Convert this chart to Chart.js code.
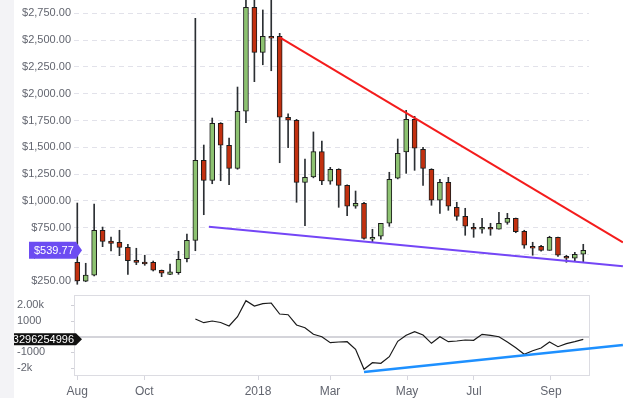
<!DOCTYPE html>
<html><head><meta charset="utf-8">
<script src="https://cdn.jsdelivr.net/npm/chart.js@4.4.0/dist/chart.umd.min.js"></script>
<style>
html,body{margin:0;padding:0;background:#fff;}
#wrap{position:relative;width:623px;height:398px;overflow:hidden;background:#fff;}
#side{position:absolute;left:0;top:0;width:14px;height:398px;background:#f3f3f6;z-index:5;}
#c1{position:absolute;left:0;top:0;}
#c2{position:absolute;left:0;top:292px;}
</style></head><body>
<div id="wrap"><div id="side"></div><canvas id="c1" width="623" height="292"></canvas><canvas id="c2" width="623" height="106"></canvas></div>
<script>
// ---- data (weekly candles) ----
const opens  = [427,250,306,726,626,614,567,446,430,427,353,315,330,461,632,1379,1192,1724,1519,1304,1836,2806,2386,2535,2535,1780,1752,1173,1223,1459,1183,1295,1145,950,978,642,670,791,1211,1456,1761,1481,1295,1006,1173,940,856,754,735,754,735,800,838,716,576,576,539,660,483,465,502];
const highs  = [980,418,971,756,663,726,595,558,493,439,355,411,530,691,2703,1521,1773,1730,1587,2062,2950,2950,2781,2900,2563,1811,1761,1391,1643,1559,1313,1300,1150,1092,987,735,791,1267,1577,1845,1789,1500,1300,1201,1220,987,931,791,838,791,894,884,840,726,614,585,670,662,493,520,595];
const lows   = [222,246,299,573,533,489,315,405,399,346,293,312,315,430,535,871,1160,1188,1151,1295,1729,2112,2270,2214,1356,1496,987,769,1215,1151,1155,940,862,931,642,614,642,763,1205,1257,1285,1145,959,884,912,819,679,660,698,679,735,782,703,558,493,530,539,483,427,437,427];
const closes = [253,309,726,623,604,567,442,427,411,353,325,337,455,632,1379,1192,1724,1519,1304,1836,2806,2386,2535,2517,1780,1752,1173,1220,1459,1186,1295,1145,950,978,651,660,791,1201,1444,1761,1491,1304,1006,1173,950,856,763,735,754,735,791,838,713,586,558,539,660,493,465,502,539.77];
const oscillator = [null,null,null,null,null,null,null,null,null,null,null,null,null,null,1131,895,1003,907,684,1278,2300,1962,2109,2153,1450,1406,748,575,153,0,-383,-339,-319,-805,-2083,-1661,-1700,-1278,-294,89,319,109,-422,0,-319,-275,-211,-230,153,89,0,-339,-703,-1125,-895,-722,-339,-639,-447,-319,-166];
const resistanceX = [24, 64.7];
const resistanceY = [2526, 612];
const supportX = [15.6, 64.7];
const supportY = [759, 391];
const oscTrendX = [34, 64.7];
const oscTrendY = [-2256, -530];
const monthLabels = ['Aug','Oct','2018','Mar','May','Jul','Sep'];
const monthPositions = [0, 7.95, 21.43, 29.97, 39.1, 47.04, 56.17];
const priceTickValues = [250,500,750,1000,1250,1500,1750,2000,2250,2500,2750];
const oscTickValues = [-2000,-1000,0,1000,2000];
const oscTickLabels = ['-2k','-1000','','1000','2.00k'];
const oscTagText = '3296254996';

// ---- styling ----
const GREEN = '#8dc271', RED = '#c2300f', EDGE = '#1c1c1c', WICK = '#2b2f33';
const TICK = '#62656f';
const FONT = '"Liberation Sans", Arial, sans-serif';
const X_MIN = -0.39, X_MAX = 60.68;
Chart.defaults.font.family = FONT;

const idx = opens.map((_, i) => i);
const bodies = idx.map(i => ({x: i, y: [opens[i], closes[i]]}));
const wicks = idx.map(i => ({x: i, y: [lows[i], highs[i]]}));
const bodyColors = idx.map(i => closes[i] >= opens[i] ? GREEN : RED);
const pts = (xs, ys) => xs.map((x, i) => ({x, y: ys[i]}));
const lastPrice = closes[closes.length - 1];
const lastOsc = oscillator[oscillator.length - 1];

const fmtPrice = v => '$' + Number(v).toLocaleString('en-US', {minimumFractionDigits: 2, maximumFractionDigits: 2});

const priceTag = {
  id: 'priceTag',
  afterDraw(chart) {
    const ctx = chart.ctx, y = chart.scales.y.getPixelForValue(lastPrice);
    ctx.save();
    ctx.fillStyle = '#6c4cf2';
    ctx.beginPath();
    ctx.moveTo(29, y - 8.5); ctx.lineTo(76, y - 8.5); ctx.lineTo(82, y); ctx.lineTo(76, y + 8.5); ctx.lineTo(29, y + 8.5);
    ctx.closePath(); ctx.fill();
    ctx.fillStyle = '#fff'; ctx.font = '11px ' + FONT; ctx.textAlign = 'left'; ctx.textBaseline = 'middle';
    ctx.fillText(fmtPrice(lastPrice), 34, y + 0.5);
    ctx.restore();
  }
};

new Chart(document.getElementById('c1'), {
  type: 'bar',
  data: { datasets: [
    {type: 'line', data: pts(resistanceX, resistanceY), borderColor: '#f41c1c', borderWidth: 2, pointRadius: 0, clip: false, order: 0},
    {type: 'line', data: pts(supportX, supportY), borderColor: '#7446f6', borderWidth: 2, pointRadius: 0, clip: false, order: 1},
    {type: 'bar', data: bodies, backgroundColor: bodyColors, borderColor: EDGE, borderWidth: 1, borderSkipped: false, barThickness: 5, grouped: false, order: 2},
    {type: 'bar', data: wicks, backgroundColor: WICK, barThickness: 1, grouped: false, order: 3}
  ]},
  options: {
    responsive: false, animation: false, devicePixelRatio: 1,
    layout: {padding: {left: 0, right: 34, top: 0, bottom: 0}},
    plugins: {legend: {display: false}, tooltip: {enabled: false}},
    scales: {
      x: {type: 'linear', min: X_MIN, max: X_MAX, display: false, offset: false},
      y: {type: 'linear', min: 150, max: 2874,
        afterBuildTicks(s) { s.ticks = priceTickValues.map(v => ({value: v})); },
        afterFit(s) { s.width = 74; s.paddingTop = 0; s.paddingBottom = 0; },
        border: {display: false, dash: [5, 4]},
        grid: {color: '#e2e2ea', drawTicks: false},
        ticks: {padding: 3, color: TICK, font: {size: 11}, callback: v => fmtPrice(v)}
      }
    }
  },
  plugins: [priceTag]
});

const panelFrame = {
  id: 'panelFrame',
  beforeDatasetsDraw(chart) {
    const {ctx, chartArea: a} = chart;
    ctx.save(); ctx.strokeStyle = '#dcdce2'; ctx.lineWidth = 1;
    ctx.strokeRect(Math.round(a.left) + 0.5, Math.round(a.top) + 0.5, Math.round(a.right - a.left), Math.round(a.bottom - a.top));
    ctx.restore();
  },
  afterDraw(chart) {
    const ctx = chart.ctx, y = chart.scales.y.getPixelForValue(lastOsc);
    ctx.save();
    ctx.fillStyle = '#111';
    ctx.beginPath();
    ctx.moveTo(0, y - 6); ctx.lineTo(76, y - 6); ctx.lineTo(82, y); ctx.lineTo(76, y + 6); ctx.lineTo(0, y + 6);
    ctx.closePath(); ctx.fill();
    ctx.fillStyle = '#fff'; ctx.font = '11px ' + FONT; ctx.textAlign = 'right'; ctx.textBaseline = 'middle';
    ctx.fillText(oscTagText, 74, y + 0.5);
    ctx.restore();
  }
};

new Chart(document.getElementById('c2'), {
  type: 'line',
  data: { datasets: [
    {data: pts(oscTrendX, oscTrendY), borderColor: '#1e90ff', borderWidth: 2.5, pointRadius: 0, clip: false, order: 0},
    {data: idx.filter(i => oscillator[i] !== null).map(i => ({x: i, y: oscillator[i]})), borderColor: '#1a1a1a', borderWidth: 1.2, pointRadius: 0, order: 1}
  ]},
  options: {
    responsive: false, animation: false, devicePixelRatio: 1,
    layout: {padding: {left: 17, right: 34, top: 3, bottom: 0}},
    plugins: {legend: {display: false}, tooltip: {enabled: false}},
    scales: {
      x: {type: 'linear', min: X_MIN, max: X_MAX, offset: false,
        afterBuildTicks(s) { s.ticks = monthPositions.map(v => ({value: v})); },
        afterFit(s) { s.height = 23; s.paddingLeft = 0; s.paddingRight = 0; },
        border: {display: false},
        grid: {drawOnChartArea: false, tickLength: 5, color: '#d6d6de'},
        ticks: {autoSkip: false, maxRotation: 0, padding: 4, color: TICK, font: {size: 12}, callback: (v, i) => monthLabels[i]}
      },
      y: {type: 'linear', min: -2447, max: 2665,
        afterBuildTicks(s) { s.ticks = oscTickValues.map(v => ({value: v})); },
        afterFit(s) { s.width = 57; s.paddingTop = 0; s.paddingBottom = 0; },
        border: {display: false},
        grid: {color: c => (c.tick && c.tick.value === 0) ? '#d4d4da' : 'rgba(0,0,0,0)', lineWidth: c => (c.tick && c.tick.value === 0) ? 2 : 1, tickLength: 3, tickColor: '#cfcfd6'},
        ticks: {crossAlign: 'far', color: TICK, font: {size: 11}, callback: (v, i) => oscTickLabels[i]}
      }
    }
  },
  plugins: [panelFrame]
});
</script>
</body></html>
